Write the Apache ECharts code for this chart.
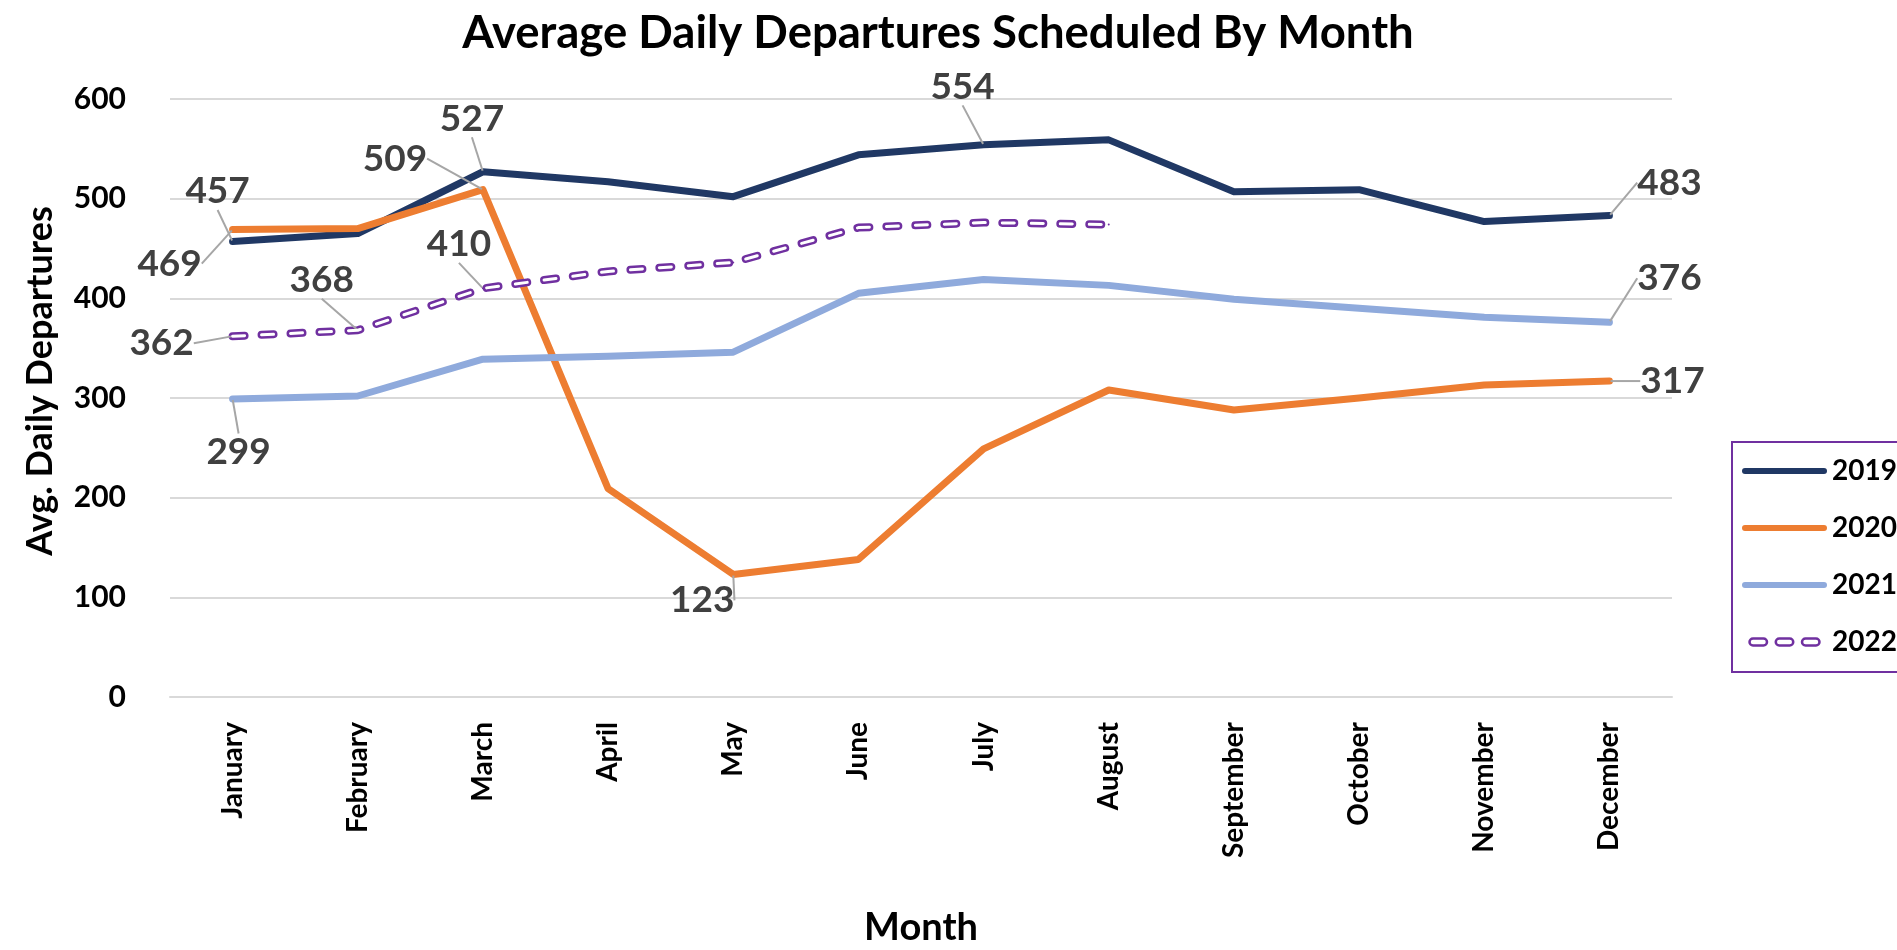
<!DOCTYPE html>
<html>
<head>
<meta charset="utf-8">
<title>Average Daily Departures Scheduled By Month</title>
<script src="https://cdn.jsdelivr.net/npm/echarts@6/dist/echarts.min.js"></script>
<style>
  html, body { margin: 0; padding: 0; background: #fff; }
  #chart { width: 1897px; height: 950px; }
</style>
</head>
<body>
<div id="chart"></div>
<script>
// 데이터
const months = ['January', 'February', 'March', 'April', 'May', 'June',
  'July', 'August', 'September', 'October', 'November', 'December'];
const yTicks = [0, 100, 200, 300, 400, 500, 600];

const dep2019 = [457, 465, 527, 517, 502, 544, 554, 559, 507, 509, 477, 483];
const dep2020 = [469, 470, 509, 209, 123, 138, 249, 308, 288, 300, 313, 317];
const dep2021 = [299, 302, 339, 342, 346, 405, 419, 413, 399, 390, 381, 376];
const dep2022 = [362, 368, 410, 427, 436, 471, 476, 474, null, null, null, null];

// 라벨 위치 (포인트 기준 dx, dy)
const labelOffsets = {
  '2019': { 0: [-15, -50], 2: [-11, -53], 6: [-21, -58], 11: [60, -33] },
  '2020': { 0: [-63, 34], 2: [-88, -31], 4: [-31, 26], 11: [63, 0] },
  '2021': { 0: [6, 53], 11: [60, -44] },
  '2022': { 0: [-71, 7], 1: [-36, -50], 2: [-24, -44] }
};

const FONT = 'Lato, "Open Sans", "Liberation Sans", sans-serif';
const colors = { '2019': '#203864', '2020': '#ED7D31', '2021': '#8FAADC', '2022': '#7030A0' };

const capsule = 'path://M3,0 H82 A3,3 0 0 1 82,6 H3 A3,3 0 0 1 3,0 Z';
const dashIcon = 'path://M4,0 H16 A4,4 0 0 1 16,8 H4 A4,4 0 0 1 4,0 Z ' +
  'M34,0 H46 A4,4 0 0 1 46,8 H34 A4,4 0 0 1 34,0 Z ' +
  'M64,0 H76 A4,4 0 0 1 76,8 H64 A4,4 0 0 1 64,0 Z';

const withLabels = (name, values) => values.map((v, i) =>
  labelOffsets[name][i] ? { value: v, label: { show: true } } : v);

const lineSeries = (name, values, extra) => Object.assign({
  name: name,
  type: 'line',
  data: withLabels(name, values),
  symbol: 'circle',
  symbolSize: 2,
  showSymbol: true,
  itemStyle: { color: colors[name], borderWidth: 0 },
  lineStyle: { color: colors[name], width: 7, cap: 'round', join: 'round' },
  label: {
    show: false,
    position: 'inside',
    color: '#404040',
    fontFamily: FONT,
    fontWeight: 'bold',
    fontSize: 37
  },
  labelLine: { show: true, lineStyle: { color: '#a6a6a6', width: 2 } },
  labelLayout: (p) => {
    const off = labelOffsets[name][p.dataIndex];
    return off ? { dx: off[0], dy: off[1] } : {};
  },
  emphasis: { disabled: true },
  z: 2
}, extra || {});

const chart = echarts.init(document.getElementById('chart'));

chart.setOption({
  animation: false,
  backgroundColor: '#fff',
  title: {
    text: 'Average Daily Departures Scheduled By Month',
    left: 933,
    textAlign: 'center',
    top: 5,
    textStyle: { fontFamily: FONT, fontWeight: 'bold', fontSize: 45.5, color: '#000' }
  },
  grid: { left: 170, right: 225, top: 99, bottom: 253, outerBoundsMode: 'none' },
  legend: {
    orient: 'vertical',
    left: 1732,
    top: 442,
    padding: [14, 40, 15, 10],
    borderColor: '#7030A0',
    borderWidth: 2,
    itemWidth: 85,
    itemHeight: 7,
    itemGap: 27,
    itemStyle: { borderWidth: 0 },
    textStyle: { fontFamily: FONT, fontWeight: 'bold', fontSize: 28, color: '#000', lineHeight: 30 },
    data: [
      { name: '2019', icon: capsule },
      { name: '2020', icon: capsule },
      { name: '2021', icon: capsule },
      { name: '2022', icon: dashIcon,
        itemStyle: { color: '#fff', borderColor: '#7030A0', borderWidth: 2.5 } }
    ]
  },
  xAxis: {
    type: 'category',
    data: months,
    boundaryGap: true,
    name: 'Month',
    nameLocation: 'middle',
    nameGap: 212,
    nameTextStyle: { fontFamily: FONT, fontWeight: 'bold', fontSize: 38, color: '#000' },
    axisLine: { show: true, lineStyle: { color: '#d9d9d9', width: 2 } },
    axisTick: { show: false },
    axisLabel: {
      rotate: 90,
      margin: 25,
      interval: 0,
      fontFamily: FONT,
      fontWeight: 'bold',
      fontSize: 28,
      color: '#000'
    }
  },
  yAxis: {
    type: 'value',
    min: yTicks[0],
    max: yTicks[yTicks.length - 1],
    interval: yTicks[1] - yTicks[0],
    name: 'Avg. Daily Departures',
    nameLocation: 'middle',
    nameGap: 112,
    nameTextStyle: { fontFamily: FONT, fontWeight: 'bold', fontSize: 36, color: '#000', padding: [0, 0, 0, 34] },
    axisLine: { show: false },
    axisTick: { show: false },
    splitLine: { lineStyle: { color: '#d9d9d9', width: 2 } },
    axisLabel: {
      margin: 44,
      fontFamily: FONT,
      fontWeight: 'bold',
      fontSize: 30,
      color: '#000'
    }
  },
  series: [
    lineSeries('2019', dep2019),
    lineSeries('2020', dep2020),
    lineSeries('2021', dep2021),
    lineSeries('2022', dep2022, {
      lineStyle: { color: colors['2022'], width: 8, cap: 'round', type: [12, 17] }
    }),
    // 2022 이중선 안쪽 (흰색)
    {
      name: '2022',
      type: 'line',
      data: dep2022,
      symbol: 'none',
      silent: true,
      lineStyle: { color: '#fff', width: 3, cap: 'round', type: [12, 17] },
      emphasis: { disabled: true },
      z: 3
    }
  ]
});
</script>
</body>
</html>
